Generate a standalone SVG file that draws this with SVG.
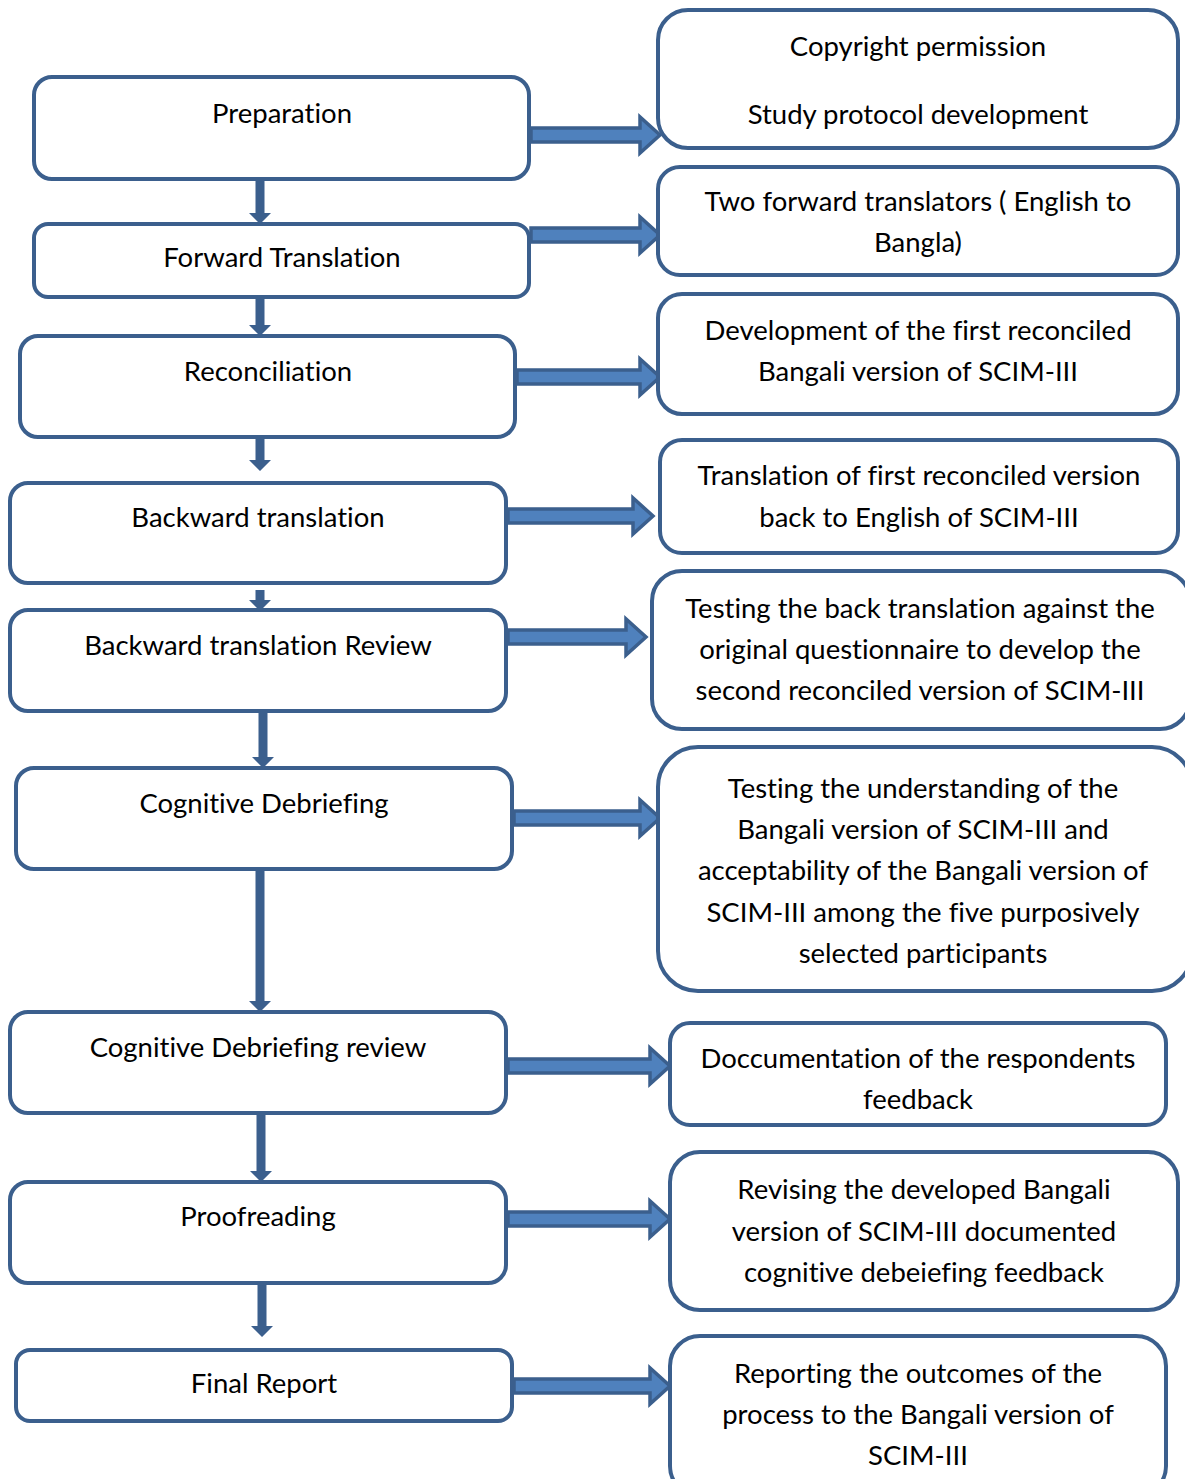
<svg xmlns="http://www.w3.org/2000/svg" width="1185" height="1479" viewBox="0 0 1185 1479">
<style>
.box{fill:#fff;stroke:#3b5f8d;stroke-width:4}
.t{font-family:Lato,"Open Sans","Liberation Sans",sans-serif;font-size:27.5px;fill:#000;text-anchor:middle;font-variant-ligatures:none}
.ha{fill:#4f81bd;stroke:#3b5f8d;stroke-width:3.5;stroke-linejoin:miter}
.va{fill:#3b5f8d}
</style>
<rect width="1185" height="1479" fill="#fff"/>
<g id="connectors">
<polygon class="ha" points="531,128 640,128 640,117 660,135 640,153 640,142 531,142"/>
<polygon class="ha" points="531,228 640,228 640,217 660,235 640,253 640,242 531,242"/>
<polygon class="ha" points="517,370 640,370 640,359 660,377 640,395 640,384 517,384"/>
<polygon class="ha" points="508,509 633,509 633,498 653,516 633,534 633,523 508,523"/>
<polygon class="ha" points="508,630 626,630 626,619 646,637 626,655 626,644 508,644"/>
<polygon class="ha" points="514,811 640,811 640,800 660,818 640,836 640,825 514,825"/>
<polygon class="ha" points="508,1059 650,1059 650,1048 670,1066 650,1084 650,1073 508,1073"/>
<polygon class="ha" points="508,1212 650,1212 650,1201 670,1219 650,1237 650,1226 508,1226"/>
<polygon class="ha" points="514,1379 650,1379 650,1368 670,1386 650,1404 650,1393 514,1393"/>
<polygon class="va" points="255.5,181 264.5,181 264.5,213 271,213 260,224 249,213 255.5,213"/>
<polygon class="va" points="255.5,299 264.5,299 264.5,325 271,325 260,336 249,325 255.5,325"/>
<polygon class="va" points="255.5,439 264.5,439 264.5,460 271,460 260,471 249,460 255.5,460"/>
<polygon class="va" points="255.5,590 264.5,590 264.5,600 271,600 260,611 249,600 255.5,600"/>
<polygon class="va" points="258.5,713 267.5,713 267.5,757 274,757 263,768 252,757 258.5,757"/>
<polygon class="va" points="255.5,871 264.5,871 264.5,1001 271,1001 260,1012 249,1001 255.5,1001"/>
<polygon class="va" points="256.5,1115 265.5,1115 265.5,1171 272,1171 261,1182 250,1171 256.5,1171"/>
<polygon class="va" points="257.5,1285 266.5,1285 266.5,1326 273,1326 262,1337 251,1326 257.5,1326"/>
</g>
<g id="preparation"><rect class="box" x="34" y="77" width="495" height="102" rx="18"/><text class="t" x="282" y="123">Preparation</text></g>
<g id="forward-translation"><rect class="box" x="34" y="224" width="495" height="73" rx="14"/><text class="t" x="282" y="267">Forward Translation</text></g>
<g id="reconciliation"><rect class="box" x="20" y="336" width="495" height="101" rx="18"/><text class="t" x="268" y="381">Reconciliation</text></g>
<g id="backward-translation"><rect class="box" x="10" y="483" width="496" height="100" rx="18"/><text class="t" x="258" y="527">Backward translation</text></g>
<g id="backward-review"><rect class="box" x="10" y="610" width="496" height="101" rx="18"/><text class="t" x="258" y="655">Backward translation Review</text></g>
<g id="cognitive-debriefing"><rect class="box" x="16" y="768" width="496" height="101" rx="18"/><text class="t" x="264" y="813">Cognitive Debriefing</text></g>
<g id="cognitive-review"><rect class="box" x="10" y="1012" width="496" height="101" rx="18"/><text class="t" x="258" y="1057">Cognitive Debriefing review</text></g>
<g id="proofreading"><rect class="box" x="10" y="1182" width="496" height="101" rx="18"/><text class="t" x="258" y="1226">Proofreading</text></g>
<g id="final-report"><rect class="box" x="16" y="1350" width="496" height="71" rx="14"/><text class="t" x="264" y="1393">Final Report</text></g>
<g id="r-preparation"><rect class="box" x="658" y="10" width="520" height="138" rx="30"/><text class="t" x="918" y="56">Copyright permission</text><text class="t" x="918" y="124">Study protocol development</text></g>
<g id="r-forward"><rect class="box" x="658" y="167" width="520" height="108" rx="22"/><text class="t" x="918" y="211">Two forward translators ( English to</text><text class="t" x="918" y="252">Bangla)</text></g>
<g id="r-reconciliation"><rect class="box" x="658" y="294" width="520" height="120" rx="24"/><text class="t" x="918" y="340">Development of the first reconciled</text><text class="t" x="918" y="381">Bangali version of SCIM-III</text></g>
<g id="r-backward"><rect class="box" x="660" y="440" width="518" height="113" rx="22"/><text class="t" x="919" y="485">Translation of first reconciled version</text><text class="t" x="919" y="527">back to English of SCIM-III</text></g>
<g id="r-review"><rect class="box" x="652" y="571" width="538" height="158" rx="30"/><text class="t" x="920" y="618">Testing the back translation against the</text><text class="t" x="920" y="659">original questionnaire to develop the</text><text class="t" x="920" y="700">second reconciled version of SCIM-III</text></g>
<g id="r-debriefing"><rect class="box" x="658" y="747" width="534" height="244" rx="40"/><text class="t" x="923" y="798">Testing the understanding of the</text><text class="t" x="923" y="839">Bangali version of SCIM-III and</text><text class="t" x="923" y="880">acceptability of the Bangali version of</text><text class="t" x="923" y="922">SCIM-III among the five purposively</text><text class="t" x="923" y="963">selected participants</text></g>
<g id="r-documentation"><rect class="box" x="670" y="1023" width="496" height="102" rx="20"/><text class="t" x="918" y="1068">Doccumentation of the respondents</text><text class="t" x="918" y="1109">feedback</text></g>
<g id="r-proofreading"><rect class="box" x="670" y="1152" width="508" height="158" rx="30"/><text class="t" x="924" y="1199">Revising the developed Bangali</text><text class="t" x="924" y="1241">version of SCIM-III documented</text><text class="t" x="924" y="1282">cognitive debeiefing feedback</text></g>
<g id="r-final"><rect class="box" x="670" y="1336" width="496" height="160" rx="30"/><text class="t" x="918" y="1383">Reporting the outcomes of the</text><text class="t" x="918" y="1424">process to the Bangali version of</text><text class="t" x="918" y="1465">SCIM-III</text></g>
</svg>
